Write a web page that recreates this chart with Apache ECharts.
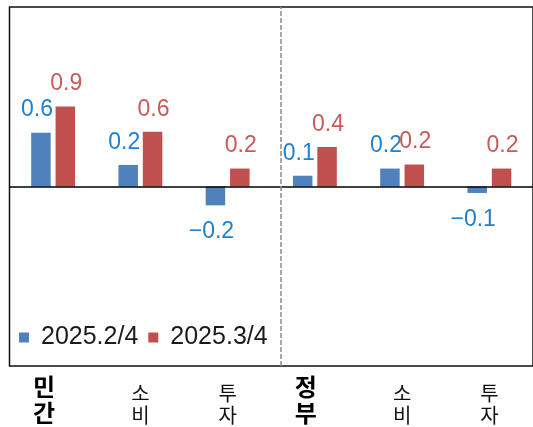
<!DOCTYPE html>
<html>
<head>
<meta charset="utf-8">
<script src="https://cdn.jsdelivr.net/npm/echarts@6/dist/echarts.min.js"></script>
<style>
  html, body { margin: 0; padding: 0; background: #fff; }
  #chart { width: 533px; height: 427px; }
</style>
</head>
<body>
<div id="chart"></div>
<script>
// 항목
const categories = ['민간', '소비', '투자', '정부', '소비', '투자'];
const headIdx = [0, 3]; // 굵게 표시되는 항목
const seriesNames = ['2025.2/4', '2025.3/4'];
const q2Values = [0.60, 0.24, -0.21, 0.12, 0.20, -0.072];
const q3Values = [0.89, 0.61, 0.20, 0.44, 0.245, 0.20];
const dividerAt = 2.61; // 민간 | 정부 구분선

const blue = '#4f81bd';
const red = '#c0504d';
const blueText = '#1f80d0';
const redText = '#c85a5a';
const numFont = 'Liberation Sans, Arial, sans-serif';
const krFont = 'Noto Sans CJK KR, sans-serif';

function fmt (p) {
  return p.value.toFixed(1).replace('-', '\u2212');
}

// 음수 막대는 라벨을 아래로
function barData (values) {
  return values.map(v => ({
    value: v,
    label: v < 0 ? { position: 'bottom', distance: 15 } : { position: 'top' }
  }));
}

let myChart = echarts.init(document.getElementById('chart'));
let option = {
  animation: false,
  grid: {
    left: 9.5,
    top: 7,
    right: -3,
    bottom: 61,
    show: true,
    borderColor: '#111',
    borderWidth: 1.5,
    backgroundColor: 'transparent'
  },
  legend: {
    left: 19,
    top: 325,
    padding: 0,
    icon: 'rect',
    itemWidth: 10,
    itemHeight: 10,
    itemGap: 10,
    textStyle: {
      fontFamily: numFont,
      fontSize: 25,
      color: '#1a1a1a',
      padding: [0, 0, 0, 7]
    },
    data: seriesNames
  },
  xAxis: [{
    type: 'category',
    data: categories,
    position: 'bottom',
    axisLine: { show: false, onZero: false },
    axisTick: { show: false },
    axisLabel: {
      interval: 0,
      margin: 60,
      verticalAlign: 'bottom',
      formatter: (val, idx) => {
        let s = val.split('').join('\n');
        return headIdx.indexOf(idx) >= 0 ? `{b|${s}}` : `{n|${s}}`;
      },
      rich: {
        b: {
          fontFamily: krFont,
          fontSize: 24,
          fontWeight: 'bold',
          lineHeight: 26,
          color: '#000',
          padding: [0, 18, 0, 0]
        },
        n: {
          fontFamily: krFont,
          fontSize: 20,
          lineHeight: 21.5,
          color: '#111'
        }
      }
    }
  }, {
    type: 'value',
    min: -0.5,
    max: 5.5,
    show: false
  }],
  yAxis: {
    type: 'value',
    min: -2,
    max: 2,
    show: false,
    splitLine: { show: false }
  },
  series: [{
    name: seriesNames[0],
    type: 'bar',
    data: barData(q2Values),
    barWidth: 19.5,
    barGap: '25%',
    itemStyle: { color: blue },
    label: {
      show: true,
      distance: 11,
      offset: [-4, 0],
      color: blueText,
      fontFamily: numFont,
      fontSize: 23,
      formatter: fmt
    },
    markLine: {
      silent: true,
      symbol: 'none',
      label: { show: false },
      lineStyle: { color: '#000', width: 1.5, type: 'solid' },
      data: [{ yAxis: 0 }]
    },
    z: 3
  }, {
    name: seriesNames[1],
    type: 'bar',
    data: barData(q3Values),
    barWidth: 19.5,
    barGap: '25%',
    itemStyle: { color: red },
    label: {
      show: true,
      distance: 11,
      offset: [1, 0],
      color: redText,
      fontFamily: numFont,
      fontSize: 23,
      formatter: fmt
    },
    z: 3
  }, {
    type: 'line',
    xAxisIndex: 1,
    yAxisIndex: 0,
    data: [],
    silent: true,
    markLine: {
      silent: true,
      symbol: 'none',
      label: { show: false },
      lineStyle: { color: '#8c8c8c', width: 1.5, type: [5, 2] },
      data: [{ xAxis: dividerAt }]
    }
  }]
};
myChart.setOption(option);
</script>
</body>
</html>
